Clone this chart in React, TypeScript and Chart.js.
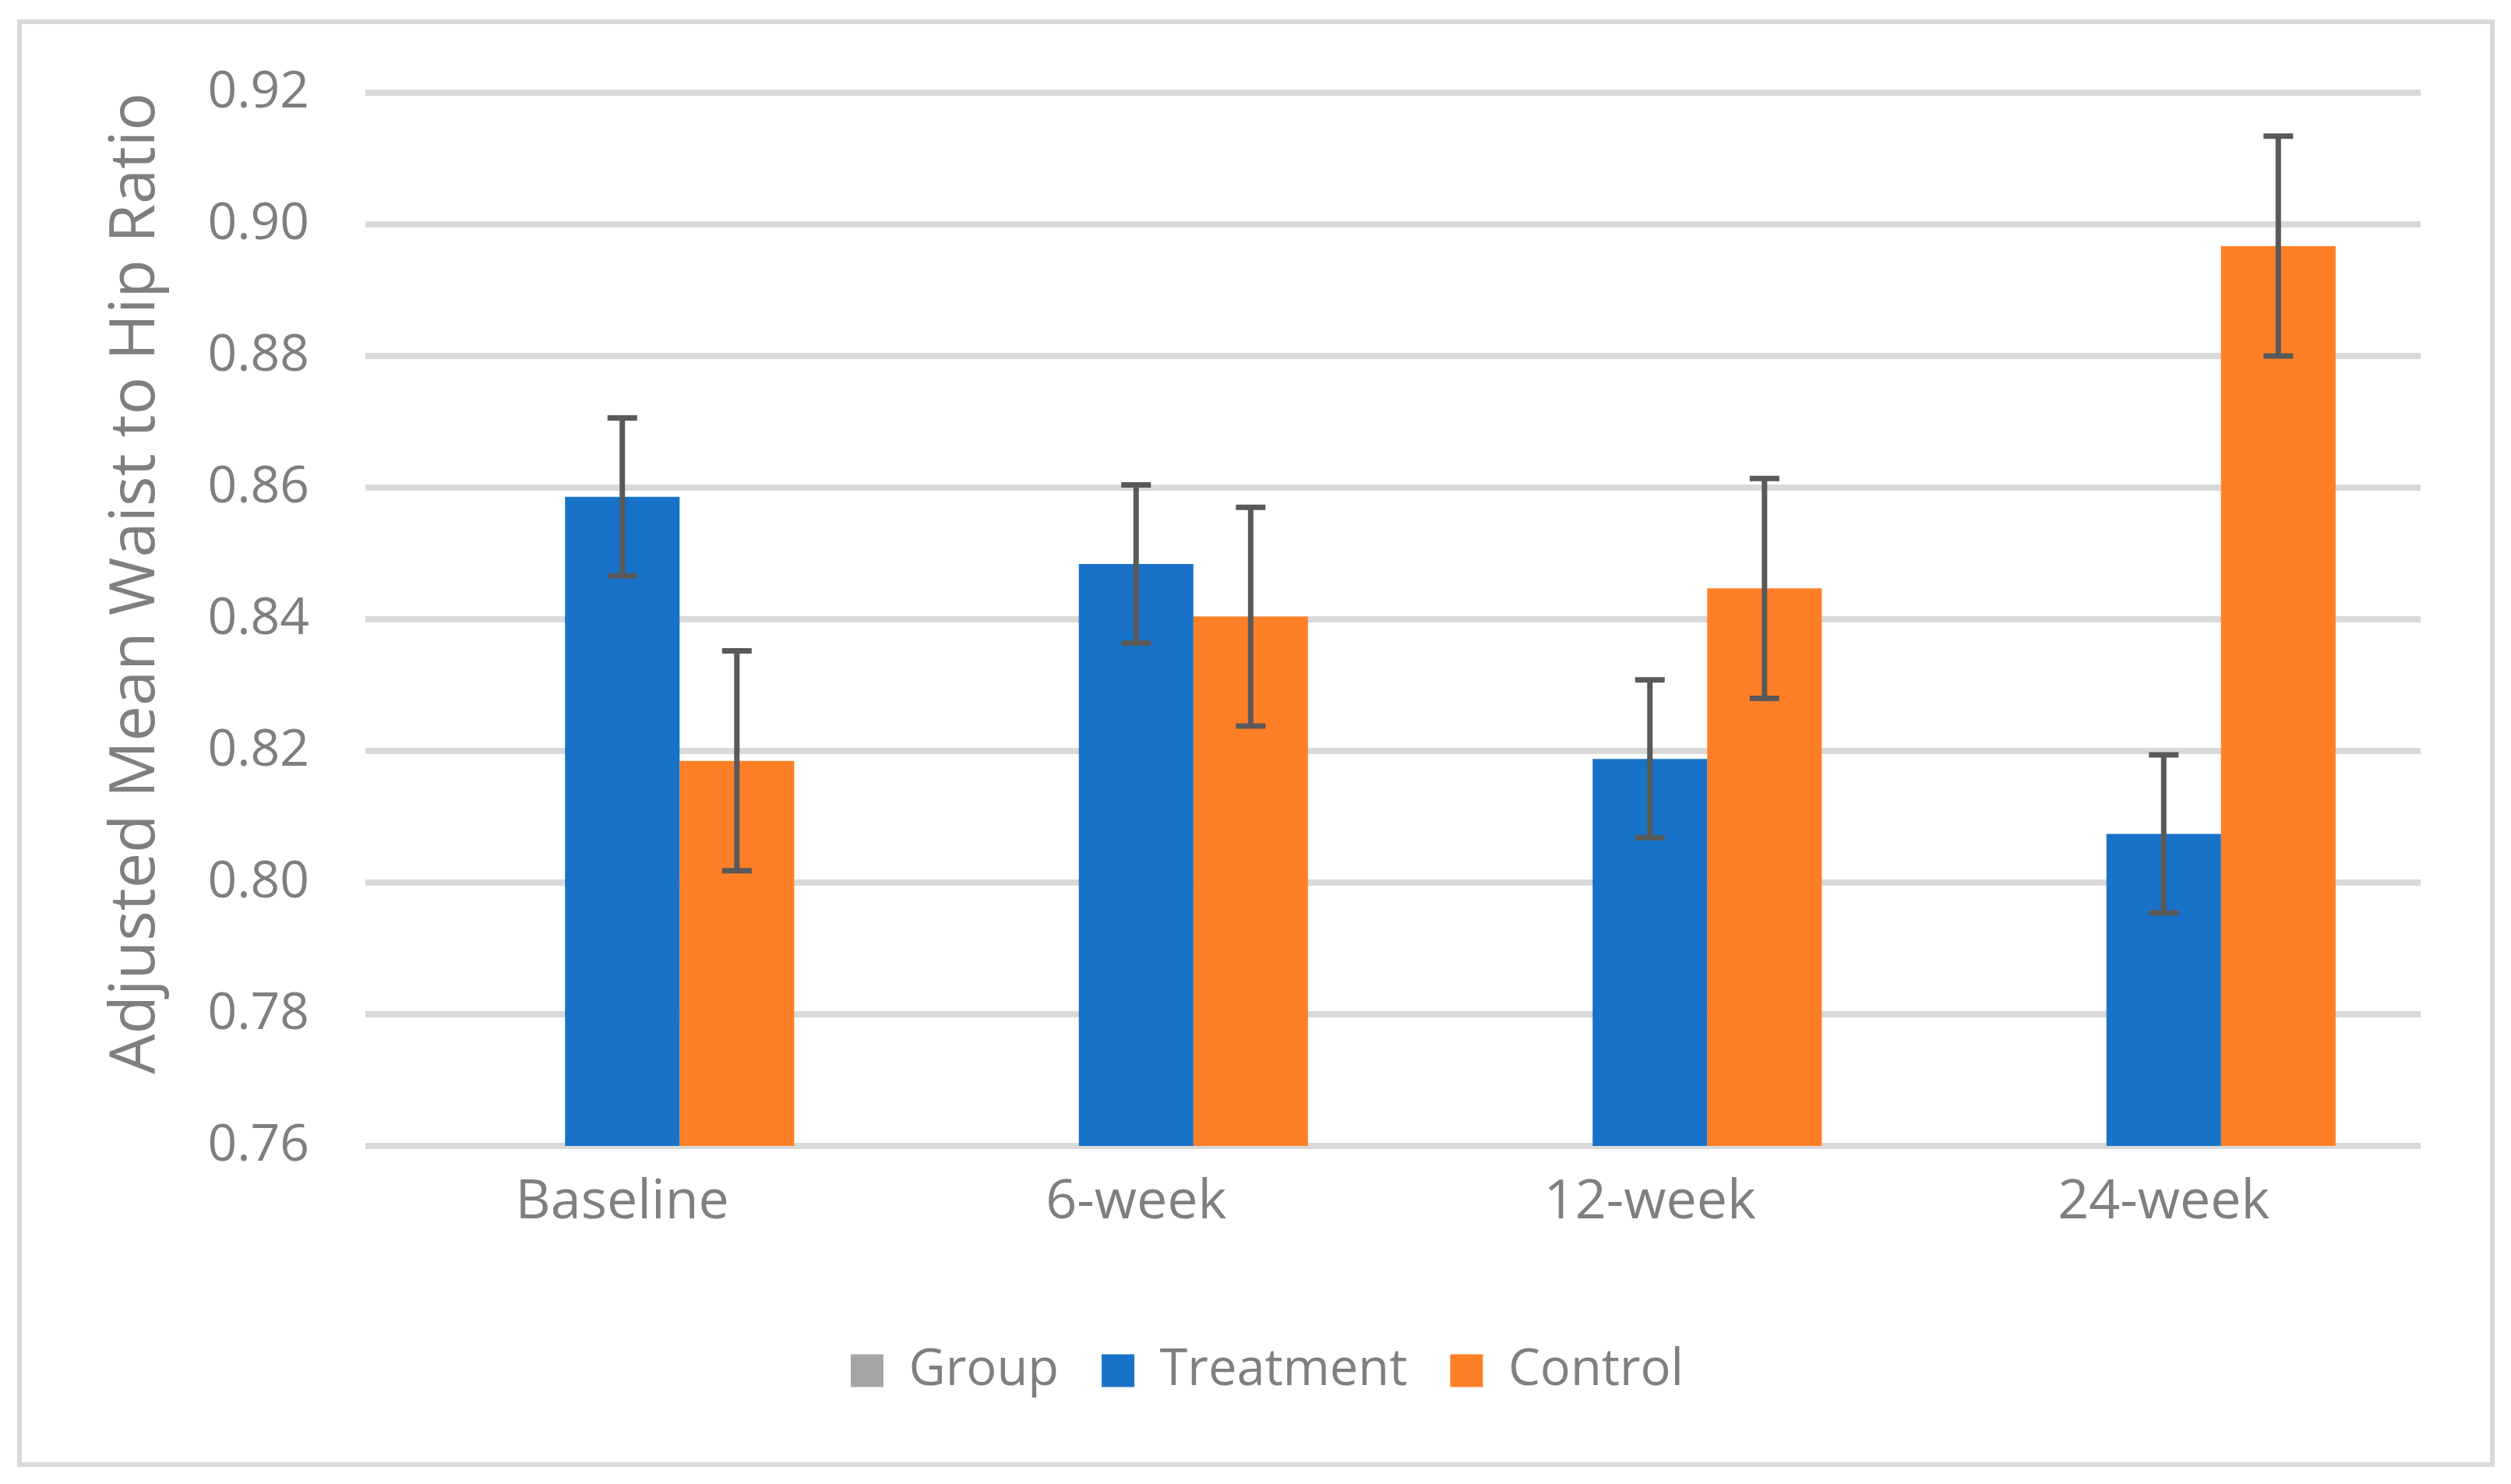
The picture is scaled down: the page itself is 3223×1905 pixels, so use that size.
import { useEffect, useRef } from "react"
import { Chart, registerables } from "chart.js"

Chart.register(...registerables)

const categories = ["Baseline", "6-week", "12-week", "24-week"]
const groupValues: (number | null)[] = [null, null, null, null]
const treatmentValues = [0.8586, 0.8484, 0.8188, 0.8074]
const treatmentErrors = [0.012, 0.012, 0.012, 0.012]
const controlValues = [0.8185, 0.8404, 0.8447, 0.8967]
const controlErrors = [0.0167, 0.0166, 0.0167, 0.0167]
const yTicks = [0.76, 0.78, 0.8, 0.82, 0.84, 0.86, 0.88, 0.9, 0.92]

const FONT = "'Open Sans', 'Noto Sans', sans-serif"
const TEXT = "#7f7f7f"

// draws the ± error bars on top of the Treatment and Control bars
const errorBars = {
  id: "errorBars",
  afterDatasetsDraw(chart: Chart) {
    const ctx = chart.ctx
    const y = chart.scales.y
    const sets: [number, number[], number[]][] = [
      [1, treatmentValues, treatmentErrors],
      [2, controlValues, controlErrors],
    ]
    ctx.save()
    ctx.strokeStyle = "#595959"
    ctx.lineWidth = 7
    ctx.lineCap = "butt"
    for (const [idx, vals, errs] of sets) {
      const meta = chart.getDatasetMeta(idx)
      meta.data.forEach((bar: any, i: number) => {
        const top = y.getPixelForValue(vals[i] + errs[i])
        const bottom = y.getPixelForValue(vals[i] - errs[i])
        const x = bar.x
        ctx.beginPath()
        ctx.moveTo(x, top)
        ctx.lineTo(x, bottom)
        ctx.moveTo(x - 19, top)
        ctx.lineTo(x + 19, top)
        ctx.moveTo(x - 19, bottom)
        ctx.lineTo(x + 19, bottom)
        ctx.stroke()
      })
    }
    ctx.restore()
  },
}

function WaistHipChart() {
  const chartRef = useRef<HTMLCanvasElement>(null)
  const chartInstance = useRef<Chart | null>(null)

  useEffect(() => {
    if (!chartRef.current) return
    const ctx = chartRef.current.getContext("2d")
    if (!ctx) return

    if (chartInstance.current) {
      chartInstance.current.destroy()
    }

    chartInstance.current = new Chart(ctx, {
      type: "bar",
      data: {
        labels: categories,
        datasets: [
          { label: "Group", data: groupValues, backgroundColor: "#a5a5a5" },
          { label: "Treatment", data: treatmentValues, backgroundColor: "#1873c8" },
          { label: "Control", data: controlValues, backgroundColor: "#ff7f27" },
        ],
      },
      options: {
        animation: false,
        responsive: true,
        maintainAspectRatio: false,
        datasets: {
          bar: { categoryPercentage: 0.669, barPercentage: 1 },
        },
        layout: {
          padding: { left: 146, top: 119, right: 116, bottom: 103 },
        },
        scales: {
          x: {
            grid: { display: false },
            border: { display: false },
            ticks: {
              color: TEXT,
              padding: 23,
              font: { family: FONT, size: 70 },
            },
            afterFit: (scale: any) => {
              scale.height = 201
            },
          },
          y: {
            min: 0.76,
            max: 0.92,
            border: { display: false },
            grid: { color: "#d9d9d9", lineWidth: 8, drawTicks: false },
            afterBuildTicks: (scale: any) => {
              scale.ticks = yTicks.map((v) => ({ value: v }))
            },
            afterFit: (scale: any) => {
              scale.width = 323
            },
            ticks: {
              color: TEXT,
              padding: 72,
              font: { family: FONT, size: 66 },
              callback: (v: any) => Number(v).toFixed(2),
            },
            title: {
              display: true,
              text: "Adjusted Mean Waist to Hip Ratio",
              color: TEXT,
              align: "end",
              padding: { top: -20, bottom: 0 },
              font: { family: FONT, size: 81 },
            },
          },
        },
        plugins: {
          legend: {
            position: "bottom",
            labels: {
              color: TEXT,
              boxWidth: 42,
              boxHeight: 42,
              padding: 55,
              font: { family: FONT, size: 65 },
            },
          },
          tooltip: { enabled: false },
        },
      },
      plugins: [errorBars],
    })

    return () => {
      if (chartInstance.current) {
        chartInstance.current.destroy()
        chartInstance.current = null
      }
    }
  }, [])

  return (
    <div style={{ position: "fixed", left: 0, top: 0, width: "3223px", height: "1905px", background: "#fff" }}>
      <div
        style={{
          position: "absolute",
          left: 22,
          top: 25,
          width: 3180,
          height: 1858,
          border: "6px solid #d9d9d9",
          boxSizing: "border-box",
        }}
      />
      <div style={{ position: "absolute", left: 0, top: 0, width: "3223px", height: "1905px" }}>
        <canvas ref={chartRef} />
      </div>
    </div>
  )
}

export default function App() {
  return <WaistHipChart />
}
